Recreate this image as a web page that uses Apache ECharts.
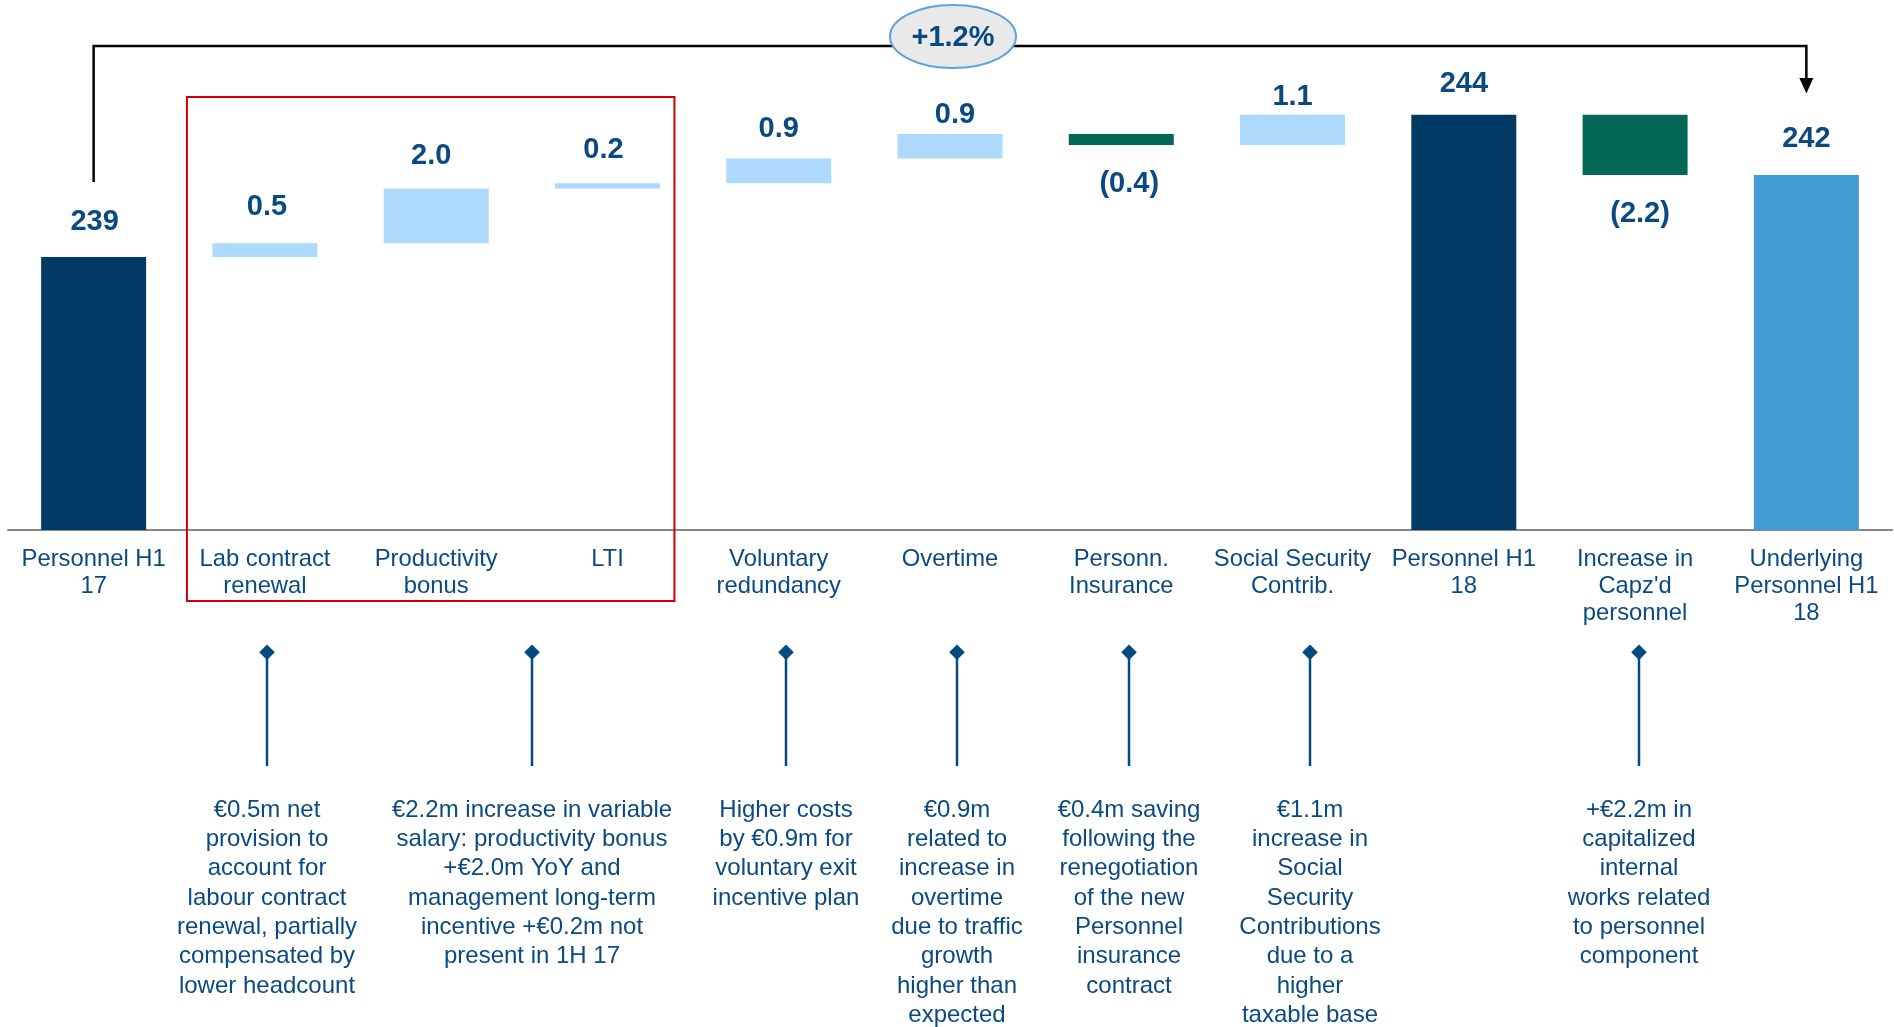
<!DOCTYPE html>
<html>
<head>
<meta charset="utf-8">
<title>Personnel costs bridge H1 17 – H1 18</title>
<script src="https://cdn.jsdelivr.net/npm/echarts@6/dist/echarts.min.js"></script>
<style>
  html, body { margin: 0; padding: 0; background: #ffffff; }
  #chart { width: 1894px; height: 1027px; }
</style>
</head>
<body>
<div id="chart"></div>
<script>
// ---- data (€m) ----
const categories = [
  'Personnel H1\n17',
  'Lab contract\nrenewal',
  'Productivity\nbonus',
  'LTI',
  'Voluntary\nredundancy',
  'Overtime',
  'Personn.\nInsurance',
  'Social Security\nContrib.',
  'Personnel H1\n18',
  "Increase in\nCapz'd\npersonnel",
  'Underlying\nPersonnel H1\n18'
];
// opening level, then changes; null = running total at that point
const barValues = [239.0, 0.5, 2.0, 0.2, 0.9, 0.9, -0.4, 1.1, null, -2.2, null];
const barTypes = ['reported', 'change', 'change', 'change', 'change', 'change', 'change', 'change',
                  'reported', 'change', 'underlying'];
const growthLabel = '+1.2%';
const notes = [
  '€0.5m net\nprovision to\naccount for\nlabour contract\nrenewal, partially\ncompensated by\nlower headcount',
  '€2.2m increase in variable\nsalary: productivity bonus\n+€2.0m YoY and\nmanagement long-term\nincentive +€0.2m not\npresent in 1H 17',
  'Higher costs\nby €0.9m for\nvoluntary exit\nincentive plan',
  '€0.9m\nrelated to\nincrease in\novertime\ndue to traffic\ngrowth\nhigher than\nexpected',
  '€0.4m saving\nfollowing the\nrenegotiation\nof the new\nPersonnel\ninsurance\ncontract',
  '€1.1m\nincrease in\nSocial\nSecurity\nContributions\ndue to a\nhigher\ntaxable base',
  '+€2.2m in\ncapitalized\ninternal\nworks related\nto personnel\ncomponent'
];

// ---- styling / layout ----
const FONT = '"Liberation Sans", Arial, Helvetica, sans-serif';
const TEXT = '#0B4A80';
const COLORS = {
  reported: '#023A66',
  underlying: '#439BD3',
  up: '#ADD9FD',
  down: '#036758'
};
// value label spacing from the bar edge and small horizontal nudges
const valueLabelGap = [20.5, 21.5, 18.5, 18.5, 15.5, 4.5, 25, 3.5, 16.5, 24.5, 21.5];
const valueLabelShift = [1, 2, -5, -4, 0, 5, 8, 0, 0, 5, 0];
const noteX = [267, 532, 786, 957, 1129, 1310, 1639];

// ---- waterfall build ----
const baseData = [];
const barData = [];
let running = 0;
barValues.forEach((v, i) => {
  const type = barTypes[i];
  if (type !== 'change') {
    if (v !== null) running = v;
    baseData.push(0);
    barData.push({
      value: running,
      itemStyle: { color: COLORS[type] },
      label: {
        position: 'top', distance: valueLabelGap[i], offset: [valueLabelShift[i], 0],
        formatter: String(Math.round(running))
      }
    });
  } else {
    const prev = running;
    running = Math.round((running + v) * 1000) / 1000;
    baseData.push(Math.min(prev, running));
    const up = v >= 0;
    barData.push({
      value: Math.abs(v),
      itemStyle: { color: up ? COLORS.up : COLORS.down },
      label: {
        position: up ? 'top' : 'bottom',
        distance: valueLabelGap[i],
        offset: [valueLabelShift[i], 0],
        formatter: up ? v.toFixed(1) : '(' + Math.abs(v).toFixed(1) + ')'
      }
    });
  }
});

const chart = echarts.init(document.getElementById('chart'), null, { renderer: 'canvas' });

chart.setOption({
  backgroundColor: '#ffffff',
  animation: false,
  grid: { left: 8, right: 2, top: 93, bottom: 497, containLabel: false, outerBoundsMode: 'none' },
  xAxis: {
    type: 'category',
    data: categories,
    axisLine: { show: true, lineStyle: { color: '#888888', width: 2 } },
    axisTick: { show: false },
    axisLabel: {
      interval: 0,
      margin: 16,
      color: TEXT,
      fontFamily: FONT,
      fontSize: 23.8,
      lineHeight: 27,
      hideOverlap: false
    },
    splitLine: { show: false }
  },
  yAxis: {
    type: 'value',
    min: 229,
    max: 245,
    show: false,
    splitLine: { show: false }
  },
  series: [
    {
      name: 'base',
      type: 'bar',
      stack: 'bridge',
      barWidth: 105,
      silent: true,
      itemStyle: { color: 'transparent' },
      data: baseData
    },
    {
      name: 'value',
      type: 'bar',
      stack: 'bridge',
      barWidth: 105,
      label: {
        show: true,
        color: TEXT,
        fontFamily: FONT,
        fontSize: 29,
        fontWeight: 'bold'
      },
      data: barData
    }
  ]
});

// ---- annotations placed from the category axis ----
const xOf = i => chart.convertToPixel({ gridIndex: 0 }, [i, 240])[0];
const xFirst = xOf(0);
const xLast = xOf(categories.length - 1);
const NAVY_LINE = '#034A80';

const graphics = [];

// bracket from opening to underlying total
graphics.push({
  type: 'polyline',
  shape: { points: [[xFirst, 182], [xFirst, 46], [xLast, 46], [xLast, 80]] },
  style: { stroke: '#000000', lineWidth: 2.5, fill: null },
  z: 10
});
graphics.push({
  type: 'polygon',
  shape: { points: [[xLast - 7, 78], [xLast + 7, 78], [xLast, 93.5]] },
  style: { fill: '#000000' },
  z: 10
});
graphics.push({
  type: 'ellipse',
  shape: { cx: 953, cy: 36.5, rx: 63, ry: 31.5 },
  style: { fill: '#E9E9E9', stroke: '#5BA3D9', lineWidth: 2 },
  z: 11
});
graphics.push({
  type: 'text',
  style: {
    text: growthLabel, x: 953, y: 38,
    textAlign: 'center', textVerticalAlign: 'middle',
    fill: TEXT, fontFamily: FONT, fontSize: 29, fontWeight: 'bold'
  },
  z: 12
});

// highlight box around the variable-salary items
const boxLeft = xOf(1) - 78;
const boxRight = xOf(3) + 67;
graphics.push({
  type: 'rect',
  shape: { x: boxLeft, y: 97, width: boxRight - boxLeft, height: 504 },
  style: { fill: null, stroke: '#CC0000', lineWidth: 2 },
  z: 9
});

// pointers and explanatory notes
notes.forEach((txt, k) => {
  const x = noteX[k];
  graphics.push({
    type: 'line',
    shape: { x1: x, y1: 652, x2: x, y2: 766 },
    style: { stroke: NAVY_LINE, lineWidth: 2.5 },
    z: 10
  });
  graphics.push({
    type: 'polygon',
    shape: { points: [[x, 644.5], [x + 7.8, 652.3], [x, 660.1], [x - 7.8, 652.3]] },
    style: { fill: NAVY_LINE },
    z: 11
  });
  graphics.push({
    type: 'text',
    style: {
      text: txt, x: x, y: 795.5,
      textAlign: 'center', textVerticalAlign: 'top',
      lineHeight: 29.3,
      fill: TEXT, fontFamily: FONT, fontSize: 24
    },
    z: 10
  });
});

chart.setOption({ graphic: { elements: graphics } });
</script>
</body>
</html>
